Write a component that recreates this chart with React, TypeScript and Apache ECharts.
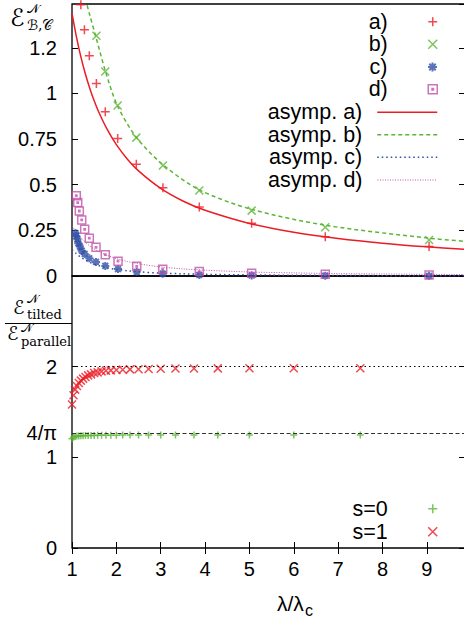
import React, { useEffect, useRef } from 'react';
import * as echarts from 'echarts';

// ---------- axes ----------
const X_MIN = 1;
const X_MAX = 9.86;
const X_TICKS = [1, 2, 3, 4, 5, 6, 7, 8, 9];
const TOP_Y_MAX = 1.49;
const TOP_Y_TICKS = [0, 0.25, 0.5, 0.75, 1, 1.25];
const TOP_Y_LABELS = ['0', '0.25', '0.5', '0.75', '1', '1.2'];
const BOT_Y_MAX = 3;
const BOT_Y_TICKS = [0, 1, 2];
const FOUR_OVER_PI = 1.2732;
const LEVEL_TWO = 2;

// ---------- top panel: data points ----------
const A_X = [1.2, 1.28, 1.39, 1.55, 1.75, 2.03, 2.45, 3.05, 3.87, 5.05, 6.71, 9.05];
const A_Y = [1.486, 1.349, 1.206, 1.054, 0.9, 0.753, 0.612, 0.484, 0.378, 0.289, 0.215, 0.161];
const B_X = [1.55, 1.75, 2.03, 2.45, 3.05, 3.87, 5.05, 6.71, 9.05];
const B_Y = [1.316, 1.12, 0.934, 0.758, 0.605, 0.468, 0.358, 0.267, 0.197];
const C_X = [1.08, 1.097, 1.12, 1.142, 1.18, 1.219, 1.286, 1.39, 1.541, 1.751, 2.037, 2.459, 3.045, 3.87, 5.05, 6.71, 9.05];
const C_Y = [0.235, 0.219, 0.201, 0.179, 0.161, 0.139, 0.121, 0.097, 0.077, 0.055, 0.038, 0.023, 0.013, 0.006, 0.003, 0.002, 0.001];
const D_X = [1.097, 1.129, 1.165, 1.219, 1.286, 1.39, 1.541, 1.751, 2.037, 2.459, 3.045, 3.87, 5.05, 6.71, 9.05];
const D_Y = [0.44, 0.402, 0.356, 0.307, 0.256, 0.207, 0.157, 0.117, 0.081, 0.053, 0.037, 0.024, 0.015, 0.009, 0.005];

// ---------- top panel: asymptotic curves ----------
const CURVE_X = [1, 1.1, 1.2, 1.3, 1.4, 1.5, 1.6, 1.8, 2, 2.25, 2.5, 3, 3.5, 4, 5, 6, 7, 8, 9, 9.86];
const ASYM_A = [1.44, 1.31, 1.2, 1.108, 1.029, 0.96, 0.9, 0.8, 0.72, 0.64, 0.576, 0.48, 0.411, 0.36, 0.288, 0.24, 0.206, 0.18, 0.16, 0.146];
const ASYM_C = [0.145, 0.122, 0.103, 0.088, 0.075, 0.065, 0.057, 0.045, 0.036, 0.029, 0.023, 0.016, 0.012, 0.009, 0.006, 0.004, 0.003, 0.002, 0.002, 0.0015];
const ASYM_D = [0.275, 0.24, 0.21, 0.185, 0.165, 0.148, 0.134, 0.112, 0.095, 0.079, 0.067, 0.05, 0.039, 0.032, 0.022, 0.017, 0.013, 0.011, 0.009, 0.008];
const CURVE_B_X = [1.3, 1.4, 1.55, 1.75, 2.02, 2.45, 3.05, 3.87, 5.05, 6.71, 9.05, 9.86];
const ASYM_B = [1.52, 1.43, 1.3, 1.125, 0.935, 0.76, 0.61, 0.472, 0.365, 0.278, 0.207, 0.19];

// ---------- bottom panel ----------
const S_X = [1.0, 1.034, 1.071, 1.111, 1.154, 1.2, 1.25, 1.304, 1.364, 1.429, 1.5, 1.579, 1.667, 1.765, 1.875, 2.0, 2.143, 2.308, 2.5, 2.727, 3.0, 3.333, 3.75, 4.286, 5.0, 6.0, 7.5];
const S1_Y = [1.582, 1.685, 1.747, 1.787, 1.82, 1.846, 1.868, 1.886, 1.904, 1.915, 1.93, 1.937, 1.948, 1.956, 1.959, 1.963, 1.967, 1.97, 1.972, 1.975, 1.977, 1.979, 1.98, 1.981, 1.982, 1.982, 1.983];
const S0_Y = [1.205, 1.222, 1.23, 1.234, 1.236, 1.238, 1.239, 1.24, 1.241, 1.242, 1.242, 1.243, 1.243, 1.244, 1.244, 1.244, 1.245, 1.245, 1.245, 1.245, 1.246, 1.246, 1.246, 1.246, 1.246, 1.246, 1.246];

// ---------- styles ----------
const RED = '#ec1c24';
const GREEN = '#5cb536';
const BLUE = '#2f4fa8';
const MAGENTA = '#c052a8';
const FONT = '"Liberation Sans", Arial, Helvetica, sans-serif';
const SERIF = '"DejaVu Serif", "DejaVu Sans", serif';

const PLUS = 'path://M0,-5L0,5M-5,0L5,0';
const CROSS = 'path://M-5,-5L5,5M-5,5L5,-5';
const STAR = 'path://M0,-5L0,5M-5,0L5,0M-3.6,-3.6L3.6,3.6M-3.6,3.6L3.6,-3.6';
const SQUARE = 'path://M-5,-5L5,-5L5,5L-5,5ZM-0.8,-0.8L0.8,-0.8L0.8,0.8L-0.8,0.8Z';

const pairs = (xs: number[], ys: number[]) => xs.map((x, i) => [x, ys[i]]);

function legendFor(name: string, centerY: number, kind: 'symbol' | 'line', width = 1.5) {
  const base: any = {
    show: true,
    selectedMode: false,
    data: [name],
    right: 26,
    top: centerY - 11,
    padding: 0,
    orient: 'vertical',
    align: 'right',
    itemWidth: 60,
    itemHeight: 9,
    textStyle: { fontFamily: FONT, fontSize: 21.5, color: '#000', lineHeight: 22, padding: [0, 10, 0, 0] },
  };
  if (kind === 'symbol') base.itemStyle = { borderWidth: width };
  else {
    base.lineStyle = { width };
    base.itemStyle = { opacity: 0 };
  }
  return base;
}

function scatter(name: string, xs: number[], ys: number[], sym: string, size: number, color: string, bw: number, xi: number, yi: number) {
  return {
    type: 'scatter',
    name,
    xAxisIndex: xi,
    yAxisIndex: yi,
    data: pairs(xs, ys),
    symbol: sym,
    symbolSize: size,
    itemStyle: { color: 'transparent', borderColor: color, borderWidth: bw },
    emphasis: { disabled: true },
    z: 4,
  };
}

function curve(name: string, xs: number[], ys: number[], color: string, type: any, width: number) {
  return {
    type: 'line',
    name,
    xAxisIndex: 0,
    yAxisIndex: 0,
    data: pairs(xs, ys),
    symbol: 'none',
    showSymbol: false,
    smooth: 0.3,
    lineStyle: { color, type, width },
    itemStyle: { color },
    emphasis: { disabled: true },
    z: 3,
  };
}

const tickStyle = { show: true, inside: true, length: 6, lineStyle: { color: '#000', width: 1 } };

function xAxis(grid: number, position: string, labels: boolean, ticks: boolean) {
  return {
    type: 'value',
    gridIndex: grid,
    position,
    min: X_MIN,
    max: X_MAX,
    interval: 1,
    axisLine: { show: false },
    splitLine: { show: false },
    axisTick: ticks ? tickStyle : { show: false },
    axisLabel: labels
      ? {
          show: true,
          margin: 11,
          fontFamily: FONT,
          fontSize: 20,
          color: '#000',
          showMaxLabel: false,
          formatter: (v: number) => (X_TICKS.includes(v) ? String(v) : ''),
        }
      : { show: false },
  };
}

function yAxis(grid: number, position: string, max: number, interval: number, fmt: ((v: number) => string) | null) {
  return {
    type: 'value',
    gridIndex: grid,
    position,
    min: 0,
    max,
    interval,
    axisLine: { show: false },
    splitLine: { show: false },
    axisTick: tickStyle,
    axisLabel: fmt
      ? { show: true, margin: 15, fontFamily: FONT, fontSize: 20, color: '#000', showMaxLabel: false, formatter: fmt }
      : { show: false },
  };
}

const topFmt = (v: number) => {
  const i = TOP_Y_TICKS.findIndex((t) => Math.abs(t - v) < 1e-9);
  return i >= 0 ? TOP_Y_LABELS[i] : '';
};
const botFmt = (v: number) => (BOT_Y_TICKS.includes(v) ? String(v) : '');

function txt(x: number, y: number, text: string, font: string) {
  return {
    type: 'text',
    x,
    y,
    silent: true,
    style: { text, font, fill: '#000', align: 'left', verticalAlign: 'middle', textAlign: 'left', textVerticalAlign: 'middle' },
  };
}

export default function App() {
  const ref = useRef<HTMLDivElement>(null);
  useEffect(() => {
    if (!ref.current) return;
    const chart = echarts.init(ref.current, null, { renderer: 'svg' });
    const gridBase = { left: 72, width: 393, height: 272, show: true, borderColor: '#000', borderWidth: 1.3, backgroundColor: 'transparent', containLabel: false, outerBoundsMode: 'none' };
    const option: any = {
      animation: false,
      backgroundColor: '#fff',
      grid: [
        { ...gridBase, top: 4 },
        { ...gridBase, top: 276 },
      ],
      xAxis: [xAxis(0, 'bottom', false, false), xAxis(1, 'bottom', true, true), xAxis(1, 'top', false, true)],
      yAxis: [
        yAxis(0, 'left', TOP_Y_MAX, 0.25, topFmt),
        yAxis(0, 'right', TOP_Y_MAX, 0.25, null),
        yAxis(1, 'left', BOT_Y_MAX, 1, botFmt),
        yAxis(1, 'right', BOT_Y_MAX, 1, null),
      ],
      legend: [
        legendFor('a)', 21.7, 'symbol'),
        legendFor('b)', 44.3, 'symbol'),
        legendFor('c)', 67, 'symbol', 2),
        legendFor('d)', 89.3, 'symbol'),
        legendFor('asymp. a)', 112.3, 'line'),
        legendFor('asymp. b)', 134.7, 'line'),
        legendFor('asymp. c)', 157.3, 'line'),
        legendFor('asymp. d)', 180, 'line', 1),
        legendFor('s=0', 508.7, 'symbol'),
        legendFor('s=1', 531.7, 'symbol'),
      ],
      series: [
        curve('asymp. a)', CURVE_X, ASYM_A, RED, 'solid', 1.5),
        curve('asymp. b)', CURVE_B_X, ASYM_B, GREEN, [4, 3], 1.5),
        curve('asymp. c)', CURVE_X, ASYM_C, BLUE, [1.5, 3], 1.5),
        curve('asymp. d)', CURVE_X, ASYM_D, MAGENTA, [1, 1.5], 1),
        scatter('a)', A_X, A_Y, PLUS, 9, RED, 1.5, 0, 0),
        scatter('b)', B_X, B_Y, CROSS, 8, GREEN, 1.5, 0, 0),
        scatter('c)', C_X, C_Y, STAR, 8, BLUE, 2, 0, 0),
        scatter('d)', D_X, D_Y, SQUARE, 8, MAGENTA, 1.5, 0, 0),
        {
          ...scatter('s=0', S_X, S0_Y, PLUS, 7, GREEN, 1.5, 1, 2),
          markLine: {
            silent: true,
            symbol: ['none', 'none'],
            animation: false,
            data: [{ yAxis: FOUR_OVER_PI }],
            lineStyle: { color: '#333', type: [4, 2.5], width: 1 },
            label: { show: true, position: 'start', formatter: '4/π', color: '#000', fontFamily: FONT, fontSize: 20, distance: 15 },
            emphasis: { disabled: true },
          },
        },
        {
          ...scatter('s=1', S_X, S1_Y, CROSS, 8, RED, 1.5, 1, 2),
          markLine: {
            silent: true,
            symbol: ['none', 'none'],
            animation: false,
            data: [{ yAxis: LEVEL_TWO }],
            lineStyle: { color: '#000', type: [1.5, 3], width: 1 },
            label: { show: false },
            emphasis: { disabled: true },
          },
        },
      ],
      graphic: [
        // top y label
        txt(10, 18, 'ℰ', `24px ${SERIF}`),
        txt(27, 8, '𝒩', `13px ${SERIF}`),
        txt(27, 25, 'ℬ,𝒞', `14px ${SERIF}`),
        // bottom y label (fraction)
        txt(13, 307, 'ℰ', `19px ${SERIF}`),
        txt(27, 299, '𝒩', `12px ${SERIF}`),
        txt(27, 314, 'tilted', `13px ${SERIF}`),
        { type: 'line', silent: true, shape: { x1: 5, y1: 323.5, x2: 72, y2: 323.5 }, style: { stroke: '#000', lineWidth: 1 } },
        txt(7, 333, 'ℰ', `19px ${SERIF}`),
        txt(21, 328, '𝒩', `12px ${SERIF}`),
        txt(21, 341, 'parallel', `13px ${SERIF}`),
        // x label
        txt(277, 603, 'λ/λ', `21px ${FONT}`),
        txt(305, 610, 'c', `16px ${FONT}`),
      ],
    };
    chart.setOption(option);
    return () => chart.dispose();
  }, []);
  return <div ref={ref} style={{ position: 'absolute', left: 0, top: 0, width: 464, height: 623 }} />;
}
